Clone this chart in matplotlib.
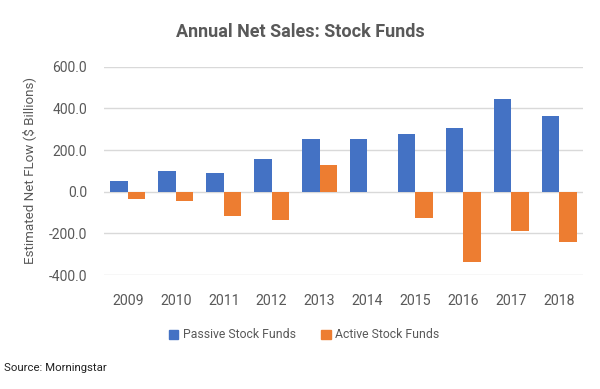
import matplotlib
matplotlib.use("Agg")
import matplotlib.pyplot as plt
import numpy as np
from matplotlib.patches import Patch

# data (estimated from the chart, $ billions)
years = ["2009", "2010", "2011", "2012", "2013", "2014", "2015", "2016", "2017", "2018"]
passive = [51, 101, 90, 159, 251, 255, 275, 307, 443, 362]
active = [-37, -47, -117, -138, 130, -3, -127, -336, -191, -243]
y_ticks = [-400, -200, 0, 200, 400, 600]

BLUE = "#4472C4"
ORANGE = "#ED7D31"
GRAY = "#595959"

plt.rcParams["font.family"] = ["Roboto", "DejaVu Sans"]

fig = plt.figure(figsize=(6, 3.89), dpi=100)
ax = fig.add_axes([0.173, 0.293, 0.799, 0.5355])

x = np.arange(len(years))
w = 0.365
ax.bar(x - w / 2, passive, width=w, color=BLUE, zorder=3)
ax.bar(x + w / 2, active, width=w, color=ORANGE, zorder=3)

ax.set_xlim(-0.5, len(years) - 0.5)
ax.set_ylim(-400, 600)
ax.set_yticks(y_ticks)
ax.set_yticklabels([f"{v:.1f}" for v in y_ticks])
ax.set_xticks(x)
ax.set_xticklabels(years)
ax.grid(axis="y", color="#D9D9D9", linewidth=1, zorder=0)
for s in ax.spines.values():
    s.set_visible(False)
ax.tick_params(axis="y", length=0, labelsize=10, colors=GRAY, pad=12)
ax.tick_params(axis="x", length=0, labelsize=10.2, colors=GRAY, pad=14)
ax.set_ylabel("Estimated Net FLow ($ Billions)", fontsize=9.6, color=GRAY, labelpad=9)

fig.text(0.5, 0.918, "Annual Net Sales: Stock Funds", ha="center", va="center",
         fontsize=13, fontweight="bold", color=GRAY)

handles = [Patch(color=BLUE, label="Passive Stock Funds"),
           Patch(color=ORANGE, label="Active Stock Funds")]
fig.legend(handles=handles, loc="center", bbox_to_anchor=(0.507, 0.139), ncol=2,
           frameon=False, prop={"size": 8.8}, handlelength=0.8, handleheight=0.8,
           handletextpad=0.4, columnspacing=2.0, labelcolor=GRAY)

fig.text(0.006, 0.054, "Source: Morningstar", ha="left", va="center", fontsize=8.2, color="#222222")

fig.savefig("out.png", dpi=100)
